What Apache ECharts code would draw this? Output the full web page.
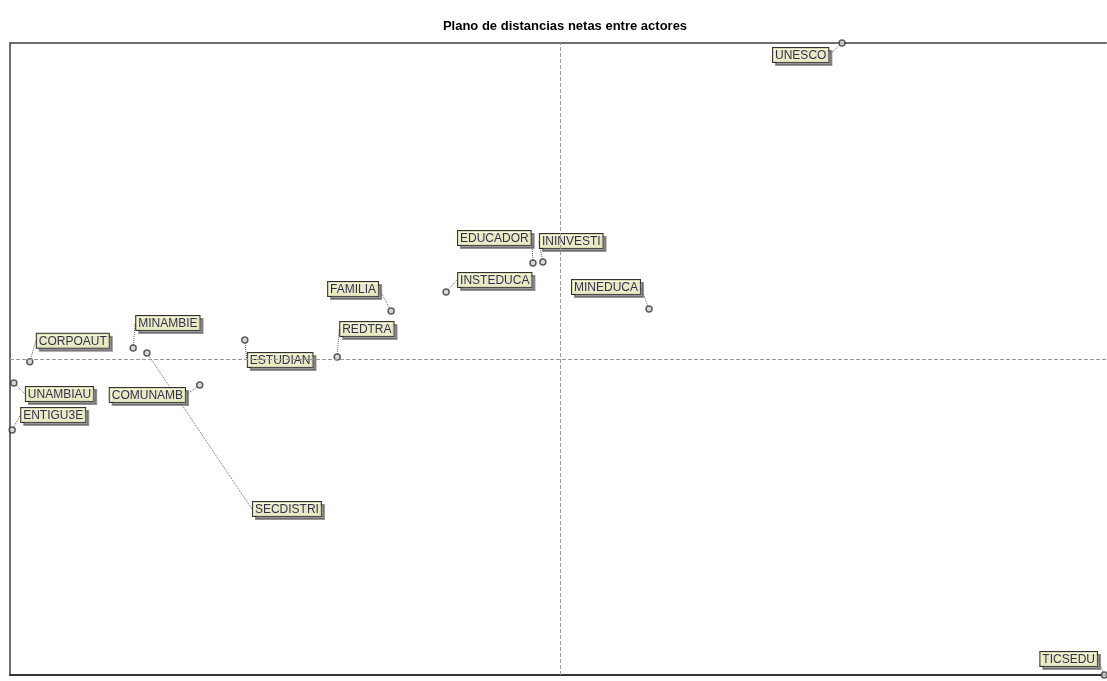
<!DOCTYPE html>
<html>
<head>
<meta charset="utf-8">
<script src="https://cdn.jsdelivr.net/npm/echarts@6/dist/echarts.min.js"></script>
<style>
html,body{margin:0;padding:0;background:#fff;}
#chart{width:1107px;height:681px;}
</style>
</head>
<body>
<div id="chart"></div>
<script>
// Data
const actors = ['UNESCO','TICSEDU','EDUCADOR','ININVESTI','INSTEDUCA','MINEDUCA','FAMILIA','REDTRA','ESTUDIAN','MINAMBIE','SECDISTRI','CORPOAUT','UNAMBIAU','ENTIGU3E','COMUNAMB'];
const xValues = [0.513, 0.990, -0.049, -0.031, -0.207, 0.162, -0.307, -0.405, -0.573, -0.776, -0.751, -0.964, -0.993, -0.996, -0.655];
const yValues = [1.000, -1.000, 0.304, 0.307, 0.212, 0.158, 0.152, 0.006, 0.060, 0.035, 0.019, -0.009, -0.076, -0.225, -0.082];
const chartTitle = 'Plano de distancias netas entre actores';

// Layout: label box top-left offset (px) relative to each point
const labelOffsets = [[-69,5],[-64,-23],[-75,-32],[-3,-28],[12,-19],[-77,-29],[-63,-29],[3,-35],[3,13],[3,-32],[106,149],[7,-28],[12,4],[9,-22],[-90,3]];

const points = actors.map((n,i)=>({name:n, value:[xValues[i], yValues[i]]}));

const chart = echarts.init(document.getElementById('chart'));
chart.setOption({
  animation:false,
  backgroundColor:'#ffffff',
  title:{
    text: chartTitle,
    left: 560, top: 15, textAlign:'center',
    textStyle:{fontFamily:'Liberation Sans, Arial', fontSize:13, fontWeight:'bold', color:'#000'}
  },
  grid:{left:10, right:1, top:43, bottom:6},
  xAxis:[
    {type:'value', min:-1, max:0.993, position:'bottom',
     axisLine:{show:true, onZero:false, lineStyle:{color:'#333', width:2}},
     axisTick:{show:false}, axisLabel:{show:false}, splitLine:{show:false}},
    {type:'value', min:-1, max:0.993, position:'top',
     axisLine:{show:true, onZero:false, lineStyle:{color:'#6e6e6e', width:2}},
     axisTick:{show:false}, axisLabel:{show:false}, splitLine:{show:false}}
  ],
  yAxis:{type:'value', min:-1, max:1,
     axisLine:{show:true, onZero:false, lineStyle:{color:'#6e6e6e', width:2}},
     axisTick:{show:false}, axisLabel:{show:false}, splitLine:{show:false}},
  series:[{
    type:'scatter',
    xAxisIndex:0,
    data: points,
    symbol:'circle',
    symbolSize:6,
    clip:false,
    itemStyle:{color:'#cfcfcf', borderColor:'#3a3a3a', borderWidth:1.5},
    label:{
      show:true,
      formatter:'{b}',
      fontFamily:'Liberation Sans, Arial',
      fontSize:12,
      lineHeight:13,
      color:'#000030',
      backgroundColor:'#ffffd2',
      borderColor:'#000',
      borderWidth:1,
      padding:[1,2,0,2],
      shadowColor:'rgba(90,90,90,0.8)',
      shadowOffsetX:3,
      shadowOffsetY:3,
      shadowBlur:0
    },
    labelLine:{show:true, lineStyle:{color:'#666', width:1, type:'dotted'}},
    labelLayout:function(p){
      const cx = p.rect.x + p.rect.width/2;
      const cy = p.rect.y + p.rect.height/2;
      const o = labelOffsets[p.dataIndex];
      return {x: cx + o[0], y: cy + o[1], align:'left', verticalAlign:'top'};
    },
    markLine:{
      silent:true,
      symbol:'none',
      label:{show:false},
      lineStyle:{color:'#999', type:'dashed', width:1},
      data:[{xAxis:0},{yAxis:0}]
    }
  }]
});
</script>
</body>
</html>
